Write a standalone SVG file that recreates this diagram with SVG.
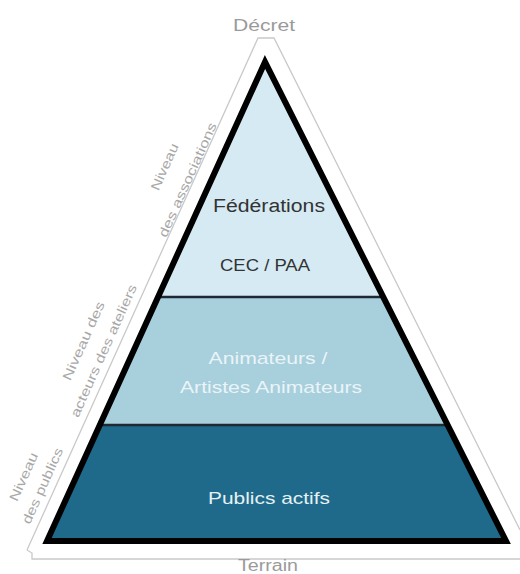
<svg xmlns="http://www.w3.org/2000/svg" width="520" height="574" viewBox="0 0 520 574">
<defs>
<style>
.outer{fill:none;stroke:#c9c9c9;stroke-width:1.3}
.lbl{font-family:"Liberation Sans",Arial,sans-serif;text-anchor:middle}
.side{font-family:"Liberation Sans",Arial,sans-serif;font-size:13px;fill:#a8a8a8;text-anchor:middle}
.div{stroke:#1d2a33;stroke-width:2.5}
</style>
<clipPath id="tri"><polygon points="265,62 47,541 506,541"/></clipPath>
</defs>
<rect width="520" height="574" fill="#ffffff"/>
<g id="outline">
<polyline class="outer" points="27,550 32,553 32,559 520,559"/>
<polyline class="outer" points="27,550 258,38 274,38 520,530"/>
</g>
<g id="bands" clip-path="url(#tri)">
<g id="band-top"><rect x="0" y="0" width="520" height="297" fill="#d5eaf3"/></g>
<g id="band-middle"><rect x="0" y="297" width="520" height="128" fill="#a7cfdc"/></g>
<g id="band-bottom"><rect x="0" y="425" width="520" height="120" fill="#1f6a8a"/></g>
</g>
<g id="connectors" clip-path="url(#tri)">
<line class="div" x1="100" y1="297" x2="420" y2="297"/>
<line class="div" x1="60" y1="425" x2="470" y2="425"/>
</g>
<g id="triangle">
<polygon points="265,62 47,541 506,541" fill="none" stroke="#000" stroke-width="6" stroke-linejoin="miter"/>
</g>
<g id="node-federations">
<text class="lbl" x="269" y="212" font-size="18" fill="#333333" textLength="112" lengthAdjust="spacingAndGlyphs">Fédérations</text>
<text class="lbl" x="265" y="271" font-size="17" fill="#333333" textLength="90" lengthAdjust="spacingAndGlyphs">CEC / PAA</text>
</g>
<g id="node-animateurs">
<text class="lbl" x="268" y="364" font-size="17" fill="#eaf4f8" textLength="119" lengthAdjust="spacingAndGlyphs">Animateurs /</text>
<text class="lbl" x="271" y="393" font-size="17" fill="#eaf4f8" textLength="182" lengthAdjust="spacingAndGlyphs">Artistes Animateurs</text>
</g>
<g id="node-publics">
<text class="lbl" x="269" y="504" font-size="17" fill="#e6f1f5" textLength="122" lengthAdjust="spacingAndGlyphs">Publics actifs</text>
</g>
<g id="node-decret">
<text class="lbl" x="264" y="31" font-size="16" fill="#9a9a9a" textLength="62" lengthAdjust="spacingAndGlyphs">Décret</text>
</g>
<g id="node-terrain">
<text class="lbl" x="268" y="571" font-size="16" fill="#9a9a9a" textLength="60" lengthAdjust="spacingAndGlyphs">Terrain</text>
</g>
<g id="side-associations">
<text class="side" transform="translate(165,167) rotate(-65.8)" y="4" textLength="50" lengthAdjust="spacingAndGlyphs">Niveau</text>
<text class="side" transform="translate(188,180) rotate(-65.8)" y="4" textLength="124" lengthAdjust="spacingAndGlyphs">des associations</text>
</g>
<g id="side-ateliers">
<text class="side" transform="translate(84,341) rotate(-65.8)" y="4" textLength="85" lengthAdjust="spacingAndGlyphs">Niveau des</text>
<text class="side" transform="translate(104,351) rotate(-65.8)" y="4" textLength="144" lengthAdjust="spacingAndGlyphs">acteurs des ateliers</text>
</g>
<g id="side-publics">
<text class="side" transform="translate(24,477) rotate(-65.8)" y="4" textLength="52" lengthAdjust="spacingAndGlyphs">Niveau</text>
<text class="side" transform="translate(43,486) rotate(-65.8)" y="4" textLength="82" lengthAdjust="spacingAndGlyphs">des publics</text>
</g>
</svg>
